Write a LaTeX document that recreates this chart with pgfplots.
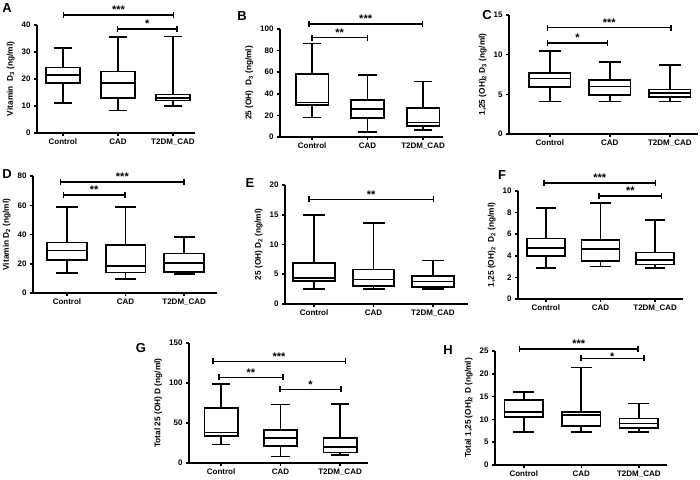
\documentclass[border=0pt]{standalone}
\usepackage{pgfplots}
\pgfplotsset{compat=1.18}
\usepgfplotslibrary{statistics}
\usetikzlibrary{arrows.meta}
\usepackage{fontspec}
\setmainfont{Liberation Sans}

% one box from the five numbers: position, low whisker, q1, median, q3, high whisker
\newcommand{\bx}[6]{\addplot[bxs, boxplot prepared={draw position=#1,
  lower whisker=#2, lower quartile=#3, median=#4, upper quartile=#5, upper whisker=#6}] coordinates {};}
% significance bracket: from, to, height, stars (optional star shift)
\newcommand{\sig}[5][0pt]{\draw[line width=1.5pt, {Bar[width=6pt]}-{Bar[width=6pt]}]
  (axis cs:#2,#4) -- node[above, inner sep=0.5pt, yshift=#1, font=\bfseries\fontsize{11}{11}\selectfont] {#5} (axis cs:#3,#4);}

\pgfplotsset{
  bxs/.style={draw=black, line width=1.7pt, fill=white, solid},
  panel/.style={
    scale only axis, anchor=south west,
    axis lines=left, axis line style={-, line width=1.6pt},
    ymin=0, clip=false,
    boxplot/draw direction=y,
    xtick={0,1,2}, xticklabels={Control,CAD,T2DM\_CAD},
    tick align=outside, major tick length=3pt,
    tick style={black, line width=1.5pt},
    /pgf/number format/assume math mode=true,
    ticklabel style={font=\bfseries\fontsize{8}{9}\selectfont},
    ylabel style={font=\bfseries\fontsize{8.3}{9}\selectfont},
    xticklabel style={yshift=1pt},
  },
}
\newcommand{\letter}[3]{\node[font=\bfseries\fontsize{13}{13}\selectfont] at (#1pt,#2pt) {#3};}

\begin{document}
\begin{tikzpicture}
\path[use as bounding box] (0,0) rectangle (700pt,479pt);

% A
\begin{axis}[panel, at={(37pt,346pt)}, width=158pt, height=108pt,
  xmin=-0.47, xmax=2.4, ymax=40, ytick={0,10,20,30,40},
  boxplot/box extend=0.62, boxplot/whisker extend=0.34,
  ylabel={Vitamin\ \ D\textsubscript{3} (ng/ml)}]
\bx{0}{11}{18.5}{21.5}{24.3}{31.5}
\bx{1}{8.3}{13}{18.4}{22.8}{35.5}
\bx{2}{10}{12}{13}{14.3}{35.7}
\sig{0}{2.02}{43.7}{***}
\sig{0.98}{2.09}{38.5}{*}
\end{axis}

% B
\begin{axis}[panel, at={(280pt,342pt)}, width=163pt, height=108pt,
  xmin=-0.58, xmax=2.36, ymax=100, ytick={0,20,...,100},
  boxplot/box extend=0.59, boxplot/whisker extend=0.33,
  ylabel={25 (OH)\ \ D\textsubscript{3} (ng/ml)}]
\bx{0}{18}{29.5}{32}{58.5}{86.5}
\bx{1}{4.5}{17.5}{26}{34.5}{57.5}
\bx{2}{6.5}{10}{13.5}{27}{51.5}
\sig{-0.07}{2.0}{104.6}{***}
\sig{-0.02}{1.01}{92}{**}
\end{axis}

% C
\begin{axis}[panel, at={(509pt,345pt)}, width=189pt, height=119pt,
  xmin=-0.68, xmax=2.47, ymax=15, ytick={0,5,10,15},
  boxplot/box extend=0.69, boxplot/whisker extend=0.36,
  ylabel={1,25 (OH)\textsubscript{2} D\textsubscript{3} (ng/ml)}]
\bx{0}{4.1}{5.9}{7.0}{7.7}{10.5}
\bx{1}{4.1}{4.9}{6.0}{6.8}{9.1}
\bx{2}{4.1}{4.7}{5.2}{5.6}{8.7}
\sig{-0.05}{2.03}{13.4}{***}
\sig{-0.05}{0.97}{11.5}{*}
\end{axis}

% D
\begin{axis}[panel, at={(33pt,186pt)}, width=184pt, height=117pt,
  xmin=-0.58, xmax=2.56, ymax=80, ytick={0,20,...,80},
  boxplot/box extend=0.68, boxplot/whisker extend=0.36,
  ylabel={Vitamin D\textsubscript{2} (ng/ml)}]
\bx{0}{13.5}{22.5}{29}{34.5}{59}
\bx{1}{9.5}{14}{18.5}{33}{59}
\bx{2}{13}{14.5}{20.5}{27}{38.5}
\sig{-0.12}{2.01}{76}{***}
\sig{-0.07}{1.0}{67}{**}
\end{axis}

% E
\begin{axis}[panel, at={(285pt,175pt)}, width=183pt, height=119pt,
  xmin=-0.49, xmax=2.59, ymax=20, ytick={0,5,...,20},
  boxplot/box extend=0.70, boxplot/whisker extend=0.37,
  ylabel={25 (OH) D\textsubscript{2} (ng/ml)}]
\bx{0}{2.5}{3.9}{4.4}{6.9}{15}
\bx{1}{2.5}{3.0}{4.1}{5.8}{13.6}
\bx{2}{2.5}{2.9}{3.8}{4.7}{7.3}
\sig{-0.1}{2.02}{17.6}{**}
\end{axis}

% F
\begin{axis}[panel, at={(518pt,180pt)}, width=165pt, height=108pt,
  xmin=-0.51, xmax=2.51, ymax=10, ytick={0,2,...,10},
  boxplot/box extend=0.70, boxplot/whisker extend=0.37,
  ylabel={1,25 (OH)\textsubscript{2}\ \ D\textsubscript{2} (ng/ml)}]
\bx{0}{2.9}{4.0}{4.7}{5.6}{8.4}
\bx{1}{3.0}{3.5}{4.65}{5.45}{8.9}
\bx{2}{2.85}{3.2}{3.6}{4.3}{7.3}
\sig{-0.05}{2.02}{10.76}{***}
\sig{0.96}{2.13}{9.54}{**}
\end{axis}

% G
\begin{axis}[panel, at={(189pt,16pt)}, width=179pt, height=120pt,
  xmin=-0.54, xmax=2.47, ymax=150, ytick={0,50,100,150},
  boxplot/box extend=0.56, boxplot/whisker extend=0.31,
  ylabel={Total 25 (OH) D (ng/ml)}]
\bx{0}{23}{34}{38}{69}{99}
\bx{1}{8}{21}{31}{41}{73}
\bx{2}{10}{13}{20}{31}{74}
\sig{-0.15}{2.1}{127}{***}
\sig{-0.05}{1.05}{107}{**}
\sig{0.98}{2.03}{92}{*}
\end{axis}

% H
\begin{axis}[panel, at={(495pt,14pt)}, width=172pt, height=114pt,
  xmin=-0.5, xmax=2.49, ymax=25, ytick={0,5,...,25},
  boxplot/box extend=0.67, boxplot/whisker extend=0.36,
  ylabel={Total 1,25 (OH)\textsubscript{2} D (ng/ml)}]
\bx{0}{7.2}{10.5}{11.6}{14.3}{16}
\bx{1}{7.2}{8.6}{11.0}{11.7}{21.4}
\bx{2}{7.2}{8.1}{9.1}{10.2}{13.5}
\sig{-0.09}{2.0}{25.4}{***}
\sig[-3.5pt]{0.98}{2.1}{23.4}{*}
\end{axis}

\letter{7}{471}{A}
\letter{242}{463}{B}
\letter{487}{464}{C}
\letter{7}{305}{D}
\letter{250}{296}{E}
\letter{502}{304}{F}
\letter{141}{131}{G}
\letter{448}{129}{H}
\end{tikzpicture}
\end{document}
